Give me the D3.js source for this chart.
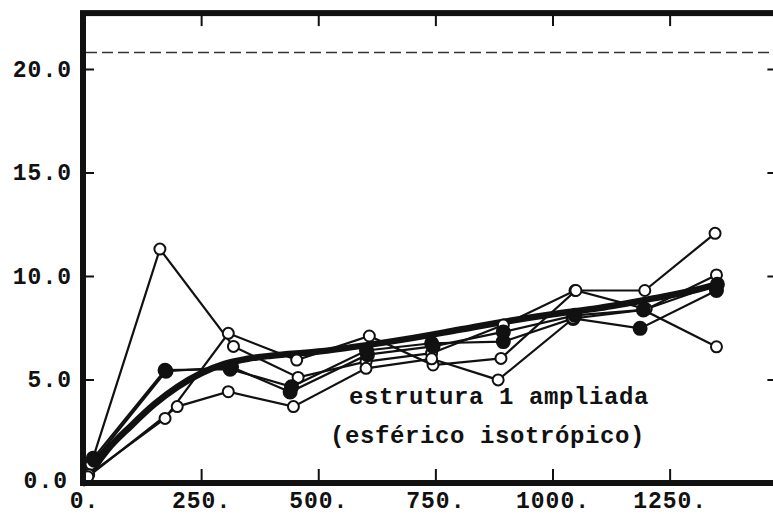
<!DOCTYPE html>
<html><head><meta charset="utf-8">
<script src="https://cdn.jsdelivr.net/npm/d3@7/dist/d3.min.js"></script>
<style>
html,body{margin:0;padding:0;background:#fff;overflow:hidden}
svg{display:block}
</style></head>
<body><svg id="c" width="773" height="514"></svg>
<script>
// ---- data ----
const xTicks = [0, 250, 500, 750, 1000, 1250];
const yTicks = [0, 5, 10, 15, 20];
const sillValue = 20.8;

const s1Lags = [15, 162, 319, 457, 602, 742, 895, 1048, 1197, 1347];
const s1Vals = [0.9, 11.3, 6.6, 5.1, 5.86, 6.27, 7.63, 9.3, 9.3, 12.06];
const s2Lags = [20, 173, 312, 443, 603, 742, 895, 1044, 1187, 1350];
const s2Vals = [1.2, 5.45, 5.5, 4.65, 6.4, 6.75, 6.83, 7.95, 7.47, 9.3];
const s3Lags = [10, 173, 308, 454, 609, 745, 890, 1050, 1200, 1350];
const s3Vals = [0.4, 3.12, 7.23, 5.94, 7.1, 5.7, 6.02, 9.3, 8.4, 10.05];
const s4Lags = [8, 199, 308, 447, 602, 742, 884, 1044, 1194, 1350];
const s4Vals = [0.3, 3.69, 4.41, 3.69, 5.54, 6.0, 4.98, 7.95, 8.36, 6.58];
const s5Lags = [22, 175, 315, 440, 605, 745, 895, 1048, 1194, 1352];
const s5Vals = [1.1, 5.4, 5.6, 4.4, 6.2, 6.6, 7.3, 8.1, 8.36, 9.6];

const modelLags = [0, 25, 50, 100, 150, 200, 250, 300, 350, 400, 500, 600, 700, 800, 900, 1000, 1100, 1200, 1300, 1350];
const modelVals = [0, 0.85, 1.6, 2.75, 3.8, 4.65, 5.3, 5.75, 6.0, 6.15, 6.35, 6.65, 7.0, 7.4, 7.8, 8.15, 8.45, 8.85, 9.3, 9.6];

const noteLine1 = "estrutura 1 ampliada";
const noteLine2 = "(esférico isotrópico)";

// ---- drawing ----
const svg = d3.select("#c");
const ink = "#111";
const x = d3.scaleLinear().domain([0, 1480]).range([84, 84 + 1480 * 0.4685]);
const y = d3.scaleLinear().domain([0, 22.7]).range([483, 13.1]);
const font = "'Liberation Mono','Courier New',monospace";

const series = [
  {lags: s1Lags, vals: s1Vals, filled: false},
  {lags: s2Lags, vals: s2Vals, filled: true},
  {lags: s3Lags, vals: s3Vals, filled: false},
  {lags: s4Lags, vals: s4Vals, filled: false},
  {lags: s5Lags, vals: s5Vals, filled: true}
];

// sill dashed line
svg.append("line")
  .attr("x1", x(0) + 2).attr("x2", 800)
  .attr("y1", y(sillValue)).attr("y2", y(sillValue))
  .attr("stroke", "#333").attr("stroke-width", 1.6)
  .attr("stroke-dasharray", "11,5");

// series lines
const line = d3.line().x(d => x(d[0])).y(d => y(d[1]));
series.forEach(s => {
  const pts = s.lags.map((l, i) => [l, s.vals[i]]);
  svg.append("path").datum(pts).attr("d", line)
    .attr("fill", "none").attr("stroke", ink).attr("stroke-width", 2.2);
});

// model thick line
const mpts = modelLags.map((l, i) => [l, modelVals[i]]);
svg.append("path").datum(mpts)
  .attr("d", d3.line().x(d => x(d[0])).y(d => y(d[1])).curve(d3.curveMonotoneX))
  .attr("fill", "none").attr("stroke", ink).attr("stroke-width", 6.5)
  .attr("stroke-linecap", "round");

// markers
series.forEach(s => {
  const pts = s.lags.map((l, i) => [l, s.vals[i]]);
  svg.append("g").selectAll("circle").data(pts).join("circle")
    .attr("cx", d => x(d[0])).attr("cy", d => y(d[1]))
    .attr("r", s.filled ? 6.5 : 5.5)
    .attr("fill", s.filled ? ink : "#fff")
    .attr("stroke", ink).attr("stroke-width", 2);
});

// axes
const fmtX = d => d + ".";
const fmtY = d3.format(".1f");

const gx = svg.append("g").attr("transform", `translate(0,${y(0)})`)
  .call(d3.axisBottom(x).tickValues(xTicks).tickSize(-14).tickPadding(9).tickFormat(fmtX));
const gy = svg.append("g").attr("transform", `translate(${x(0)},0)`)
  .call(d3.axisLeft(y).tickValues(yTicks).tickSize(-10).tickPadding(12).tickFormat(fmtY));
const gt = svg.append("g").attr("transform", `translate(0,${y(22.7)})`)
  .call(d3.axisTop(x).tickValues(xTicks.slice(1)).tickSize(-13).tickFormat(""));
const gr = svg.append("g").attr("transform", `translate(${x(1480)},0)`)
  .call(d3.axisRight(y).tickValues(yTicks.slice(1)).tickSize(-10).tickFormat(""));

[gx, gy, gt, gr].forEach(g => {
  g.select(".domain").remove();
  g.selectAll(".tick line").attr("stroke", ink).attr("stroke-width", 2);
  g.selectAll(".tick text").attr("fill", ink)
    .style("font-family", font).style("font-weight", "bold")
    .style("font-size", "23px").style("letter-spacing", "1px");
});
gx.selectAll(".tick").filter(d => d === 0).select("line").remove();
gy.selectAll(".tick").filter(d => d === 0).select("line").remove();
gy.selectAll(".tick").filter(d => d === 0).select("text").attr("x", -16).attr("dy", "0.2em");

// frame
svg.append("rect")
  .attr("x", x(0) - 1).attr("y", y(22.7))
  .attr("width", x(1480) - x(0) + 1).attr("height", y(0) - y(22.7))
  .attr("fill", "none").attr("stroke", ink).attr("stroke-width", 6);

// annotation
const note = svg.append("g")
  .style("font-family", font).style("font-weight", "bold")
  .style("font-size", "24px").style("letter-spacing", "0.6px").attr("fill", ink);
note.append("text").attr("x", 349).attr("y", 404).text(noteLine1);
note.append("text").attr("x", 330).attr("y", 443).text(noteLine2);
</script>
</body></html>
